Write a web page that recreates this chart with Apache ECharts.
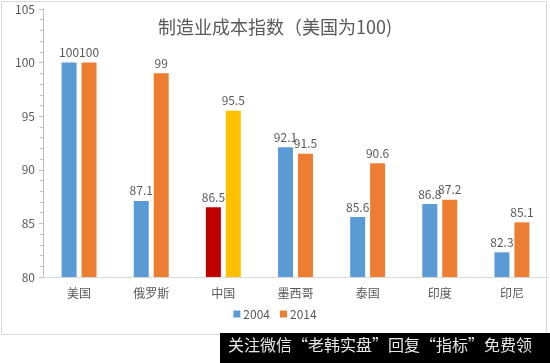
<!DOCTYPE html>
<html><head><meta charset="utf-8">
<script src="https://cdn.jsdelivr.net/npm/echarts@6/dist/echarts.min.js"></script>
<style>html,body{margin:0;padding:0;background:#fff}#c{width:550px;height:363px}</style>
</head><body><div id="c"></div>
<script>
var categories = ['美国','俄罗斯','中国','墨西哥','泰国','印度','印尼'];
var values2004 = [100, 87.1, 86.5, 92.1, 85.6, 86.8, 82.3];
var values2014 = [100, 99, 95.5, 91.5, 90.6, 87.2, 85.1];
var yTicks = [80, 85, 90, 95, 100, 105];
var seriesNames = ['2004', '2014'];
var titleText = '制造业成本指数（美国为100)';
var watermark = '关注微信“老韩实盘”回复“指标”免费领';

var C_BLUE = '#5B9BD5', C_ORANGE = '#ED7D31', C_RED = '#C00000', C_YELLOW = '#FFC000';
var FONT = 'Noto Sans CJK SC';
function mk(vals, base, special) {
  return vals.map(function (v, i) {
    var d = { value: v };
    if (categories[i] === '中国') d.itemStyle = { color: special };
    return d;
  });
}
var chart = echarts.init(document.getElementById('c'));
chart.setOption({
  animation: false,
  textStyle: { fontFamily: FONT },
  title: { text: titleText, left: 'center', top: 13, textStyle: { fontFamily: FONT, fontSize: 18, fontWeight: 'normal', color: '#595959' } },
  grid: { left: 43, right: 2, top: 9, bottom: 86, containLabel: false },
  legend: { bottom: 38, left: 'center', itemWidth: 7, itemHeight: 7, itemGap: 10, icon: 'rect',
    textStyle: { fontFamily: FONT, fontSize: 12, color: '#595959', padding: [0,0,0,-2] }, data: seriesNames },
  xAxis: { type: 'category', data: categories,
    axisLine: { lineStyle: { color: '#D9D9D9' } }, axisTick: { show: false },
    axisLabel: { color: '#595959', fontSize: 12, margin: 10, fontFamily: FONT } },
  yAxis: { type: 'value', min: yTicks[0], max: yTicks[yTicks.length-1], interval: 5,
    axisLine: { show: true, lineStyle: { color: '#BFBFBF' } },
    axisTick: { show: true, length: 4, lineStyle: { color: '#BFBFBF' } },
    minorTick: { show: true, splitNumber: 5, length: 3, lineStyle: { color: '#BFBFBF' } },
    splitLine: { show: false },
    axisLabel: { color: '#595959', fontSize: 12, margin: 8, fontFamily: FONT } },
  series: [
    { name: seriesNames[0], type: 'bar', barWidth: 15, barGap: '33%', itemStyle: { color: C_BLUE },
      data: mk(values2004, C_BLUE, C_RED),
      label: { show: true, position: 'top', distance: 4, color: '#595959', fontSize: 12, fontFamily: FONT } },
    { name: seriesNames[1], type: 'bar', barWidth: 15, barGap: '33%', itemStyle: { color: C_ORANGE },
      data: mk(values2014, C_ORANGE, C_YELLOW),
      label: { show: true, position: 'top', distance: 4, color: '#595959', fontSize: 12, fontFamily: FONT } }
  ],
  graphic: [
    { type: 'rect', shape: { x: 1.5, y: 1.5, width: 545, height: 333 }, style: { fill: 'none', stroke: '#D9D9D9', lineWidth: 1 }, z: -1 },
    { type: 'rect', shape: { x: 220, y: 333, width: 330, height: 30 }, style: { fill: '#000' }, z: 10 },
    { type: 'text', x: 228, y: 337, style: { text: watermark, fill: '#e8e8e8', font: '16px "Noto Sans CJK SC"' }, z: 11 }
  ]
});
</script></body></html>
